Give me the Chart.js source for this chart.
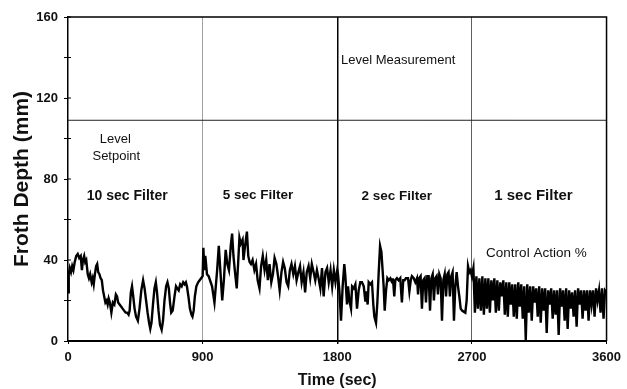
<!doctype html>
<html>
<head>
<meta charset="utf-8">
<title>Froth Depth</title>
<script src="https://cdn.jsdelivr.net/npm/chart.js@4.4.0/dist/chart.umd.min.js"></script>
<style>
	body { margin: 0; background: #fff; }
	#canvas-holder { width: 627px; height: 389px; }
</style>
</head>
<body>
<div id="canvas-holder"><canvas id="chart-area" width="627" height="389"></canvas></div>
<script>
	// 10 sec filter section (time in sec, depth in mm)
	var filter10Time = [0, 5, 12, 20, 28, 36, 45, 55, 65, 75, 85, 93, 100, 108, 115, 122, 132, 140, 148, 158,
		165, 172, 180, 188, 195, 202, 210, 218, 226, 234, 242, 250, 258, 265, 272, 280, 290, 300, 310, 320,
		328, 335, 345, 355, 365, 375, 385, 395, 405, 412, 420, 428, 436, 445, 455, 467, 478, 490, 502, 512,
		522, 532, 542, 550, 558, 568, 578, 587, 595, 605, 615, 626, 635, 645, 656, 665, 674, 682, 690, 700,
		712, 722, 730, 740, 750, 760, 770, 780, 788, 795, 805, 815, 825, 832, 840, 848, 858, 870, 880, 890];
	var filter10Depth = [24, 33, 36, 34, 37, 35, 39, 42, 43, 41, 42, 35, 40, 42, 39, 40, 33, 31, 33, 29,
		31, 28, 33, 37, 38, 34, 33, 31, 30, 25, 22, 19, 20, 18, 21, 19, 14, 19, 18, 23,
		22, 19, 18, 17, 16, 15, 14, 14, 13, 15, 24, 27, 22, 16, 12, 10, 16, 25, 30, 26,
		20, 14, 9, 6, 9, 18, 26, 29, 24, 15, 8, 5.5, 10, 20, 27, 29, 26, 19, 14, 15,
		22, 27, 26, 25, 28, 27, 29, 28, 29, 27, 22, 16, 13, 12, 15, 22, 27, 29, 30, 31];

	// 5 sec filter section
	var filter5Time = [900, 905, 911, 918, 929, 940, 963, 979, 997, 1008, 1020, 1031, 1042, 1054, 1065, 1076, 1088, 1097, 1106, 1115,
		1128, 1137, 1146, 1155, 1167, 1173, 1182, 1196, 1205, 1214, 1223, 1234, 1246, 1257, 1268, 1280, 1291, 1302, 1314, 1325,
		1336, 1347, 1359, 1370, 1381, 1393, 1404, 1415, 1427, 1438, 1449, 1461, 1472, 1483, 1494, 1506, 1517, 1528, 1540, 1551,
		1562, 1574, 1585, 1596, 1608, 1619, 1630, 1642, 1653, 1664, 1675, 1687, 1698, 1709, 1721, 1732, 1743, 1755, 1766, 1777, 1788];
	var filter5Depth = [32, 46, 35, 42, 33, 32, 27, 19, 35, 47, 33, 20, 30, 45, 38, 35, 47, 53, 42, 35,
		26, 38, 51, 48, 50, 40, 46, 54, 42, 39, 38, 40, 35, 38, 30, 26, 37, 42, 35, 40,
		30, 38, 29, 33, 41, 38, 32, 25, 34, 39, 36, 29, 27, 35, 38, 33, 37, 30, 34, 37,
		29, 34, 24, 34, 37, 31, 38, 34, 30, 35, 31, 26, 36, 22, 34, 36, 29, 35, 27, 35, 29];

	// 2 sec filter section
	var filter2Time = [1800, 1805, 1814, 1825, 1836, 1847, 1854, 1865, 1872, 1881, 1892, 1899, 1910, 1921, 1932, 1943, 1954, 1965, 1977, 1988,
		1994, 2003, 2010, 2021, 2032, 2041, 2048, 2059, 2068, 2077, 2086, 2095, 2103, 2110, 2117, 2126, 2135, 2144, 2155, 2166,
		2172, 2181, 2188, 2199, 2210, 2221, 2232, 2241, 2250, 2259, 2273, 2282, 2291, 2299, 2311, 2322, 2333, 2340, 2348, 2357,
		2366, 2375, 2384, 2393, 2402, 2411, 2420, 2429, 2438, 2446, 2455, 2464, 2473, 2482, 2491, 2500, 2509, 2518, 2527, 2536,
		2544, 2553, 2562, 2571, 2580, 2589, 2598, 2607, 2616, 2625, 2634, 2645, 2656, 2665, 2674, 2683, 2691];
	var filter2Depth = [35, 33, 25, 10, 27, 38, 32, 18, 27, 20, 16, 27, 26, 28, 16, 25, 29, 29, 27, 19.5,
		24.5, 18, 29, 28, 29, 18, 12, 9, 19, 34, 47, 44, 35, 27, 15, 25, 31, 30, 31, 29,
		31, 22, 30, 31, 30, 31, 19, 30, 30, 31, 31, 24.5, 30, 32, 31, 29, 31, 23, 31, 32,
		16, 30, 31, 19, 32, 32, 15, 31, 33, 20, 31, 32, 23, 33, 31, 10, 30, 33, 22, 33,
		34, 22, 32, 34, 10, 27, 34, 27, 22, 16, 15, 14.5, 14, 20, 37, 34, 35];

	// 1 sec filter section
	var filter1Time = [2700, 2710, 2720, 2730, 2740, 2750, 2760, 2770, 2780, 2790,
		2800, 2810, 2820, 2830, 2840, 2850, 2860, 2870, 2880, 2890,
		2900, 2910, 2920, 2930, 2940, 2950, 2960, 2970, 2980, 2990,
		3000, 3010, 3020, 3030, 3040, 3050, 3060, 3070, 3080, 3090,
		3100, 3110, 3120, 3130, 3140, 3150, 3160, 3170, 3180, 3190,
		3200, 3210, 3220, 3230, 3240, 3250, 3260, 3270, 3280, 3290,
		3300, 3310, 3320, 3330, 3340, 3350, 3360, 3370, 3380, 3390,
		3400, 3410, 3420, 3430, 3440, 3450, 3460, 3470, 3480, 3490,
		3500, 3510, 3520, 3530, 3540, 3550, 3560, 3570, 3580, 3590, 3600];
	var filter1Depth = [32, 36, 14, 32, 16, 31, 15, 32, 13, 31,
		16, 31, 14, 30, 20, 31, 14, 30, 15, 29,
		22, 30, 13, 29, 12, 29, 18, 28, 12, 28,
		11, 29, 17, 28, 11, 27, 0.5, 28, 14, 27,
		10, 27, 19, 26, 12, 27, 9, 26, 15, 26,
		4, 25, 18, 26, 11, 25, 13, 25, 3, 26,
		17, 25, 10, 26, 6, 25, 16, 24, 12, 25,
		7, 26, 18, 25, 11, 25, 15, 25, 10, 25,
		18, 25, 12, 26, 20, 25, 14, 26, 11, 25, 24];

	var setpointDepth = 109;
	var xTickValues = [0, 900, 1800, 2700, 3600];
	var yTickValues = [0, 20, 40, 60, 80, 100, 120, 140, 160];
	var yLabelled = [0, 40, 80, 120, 160];

	// text written on the plot: [text, time, depth, size, weight]
	var notes = [
		['Level', 316, 99.6, 13, 'normal'],
		['Setpoint', 323, 91.2, 13, 'normal'],
		['10 sec Filter', 396, 71.5, 14, 'bold'],
		['5 sec Filter', 1270, 72, 13.5, 'bold'],
		['2 sec Filter', 2197, 71.5, 13.5, 'bold'],
		['1 sec Filter', 3111, 71.5, 15, 'bold'],
		['Level Measurement', 2207, 138.6, 13, 'normal'],
		['Control Action %', 3131, 43.4, 13.5, 'normal']
	];

	var fontFamily = "'Liberation Sans', Arial, sans-serif";
	Chart.defaults.font.family = fontFamily;
	Chart.defaults.color = '#111';

	var trace = [];
	[[filter10Time, filter10Depth], [filter5Time, filter5Depth], [filter2Time, filter2Depth], [filter1Time, filter1Depth]].forEach(function (part) {
		part[0].forEach(function (t, i) {
			trace.push({ x: t, y: part[1][i] });
		});
	});

	var gridColours = { 900: '#a0a0a0', 1800: '#000', 2700: '#606060' };

	var framePlugin = {
		id: 'frame',
		afterDatasetsDraw: function (chart) {
			var a = chart.chartArea, ctx = chart.ctx;
			var xs = chart.scales.x, ys = chart.scales.y;
			ctx.save();
			ctx.strokeStyle = '#000';
			ctx.lineWidth = 1.5;
			ctx.beginPath();
			ctx.moveTo(a.left, a.top);
			ctx.lineTo(a.right, a.top);
			ctx.lineTo(a.right, a.bottom);
			ctx.stroke();
			// small inner tick marks on the depth axis
			ctx.lineWidth = 1;
			yTickValues.forEach(function (v) {
				var py = ys.getPixelForValue(v);
				ctx.beginPath();
				ctx.moveTo(a.left, py);
				ctx.lineTo(a.left + 3, py);
				ctx.stroke();
			});
			ctx.fillStyle = '#111';
			ctx.textAlign = 'center';
			ctx.textBaseline = 'middle';
			notes.forEach(function (n) {
				ctx.font = n[4] + ' ' + n[3] + 'px ' + fontFamily;
				ctx.fillText(n[0], xs.getPixelForValue(n[1]), ys.getPixelForValue(n[2]));
			});
			ctx.restore();
		}
	};

	var config = {
		type: 'line',
		data: {
			datasets: [{
				label: 'Froth depth',
				data: trace,
				borderColor: '#000',
				borderWidth: 2.4,
				pointRadius: 0,
				tension: 0
			}, {
				label: 'Level setpoint',
				data: [{ x: 0, y: setpointDepth }, { x: 3600, y: setpointDepth }],
				borderColor: '#222',
				borderWidth: 1,
				pointRadius: 0
			}]
		},
		options: {
			responsive: false,
			animation: false,
			events: [],
			layout: { padding: { top: 17, right: 20, left: 0, bottom: 0 } },
			plugins: {
				legend: { display: false },
				tooltip: { enabled: false }
			},
			scales: {
				x: {
					type: 'linear',
					min: 0,
					max: 3600,
					afterBuildTicks: function (scale) {
						scale.ticks = xTickValues.map(function (v) { return { value: v }; });
					},
					afterFit: function (scale) { scale.height = 48; },
					ticks: {
						autoSkip: false,
						maxRotation: 0,
						padding: 6,
						font: { size: 13, weight: 'bold' },
						callback: function (v) { return String(v); }
					},
					grid: {
						color: function (c) { return gridColours[c.tick.value] || 'rgba(0,0,0,0)'; },
						lineWidth: function (c) { return c.tick.value === 1800 ? 1.5 : 1; },
						tickColor: '#000',
						tickLength: 3
					},
					border: { color: '#000', width: 2 },
					title: {
						display: true,
						text: 'Time (sec)',
						font: { size: 16, weight: 'bold', lineHeight: 1 },
						padding: { top: 0, bottom: 0 }
					}
				},
				y: {
					min: 0,
					max: 160,
					afterBuildTicks: function (scale) {
						scale.ticks = yTickValues.map(function (v) { return { value: v }; });
					},
					afterFit: function (scale) { scale.width = 68; },
					ticks: {
						autoSkip: false,
						padding: 6,
						font: { size: 13, weight: 'bold' },
						callback: function (v) { return yLabelled.indexOf(v) >= 0 ? String(v) : ''; }
					},
					grid: {
						drawOnChartArea: false,
						tickColor: '#000',
						tickLength: 4
					},
					border: { color: '#000', width: 1.5 },
					title: {
						display: true,
						text: 'Froth Depth (mm)',
						font: { size: 21, weight: 'bold', lineHeight: 1 },
						padding: { top: 12, bottom: 0 }
					}
				}
			}
		},
		plugins: [framePlugin]
	};

	window.onload = function () {
		var ctx = document.getElementById('chart-area').getContext('2d');
		window.myChart = new Chart(ctx, config);
	};
</script>
</body>
</html>
